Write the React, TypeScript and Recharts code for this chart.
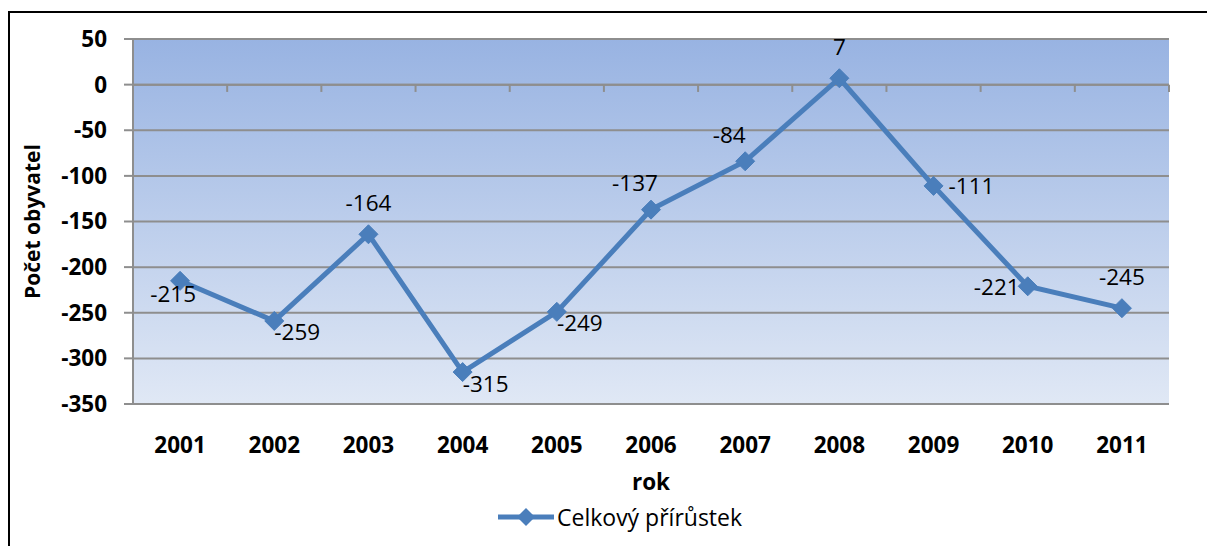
import React from 'react';
import {
  LineChart,
  Line,
  XAxis,
  YAxis,
  CartesianGrid,
  ReferenceLine,
  LabelList,
  Legend,
} from 'recharts';

// Roky a celkový přírůstek obyvatel
const years = ['2001', '2002', '2003', '2004', '2005', '2006', '2007', '2008', '2009', '2010', '2011'];
const growth = [-215, -259, -164, -315, -249, -137, -84, 7, -111, -221, -245];
const yTicks = [50, 0, -50, -100, -150, -200, -250, -300, -350];
const seriesName = 'Celkový přírůstek';

// where each value label sits relative to its marker
const labelSides = [
  'belowLeft', 'belowRight', 'above', 'belowRight', 'belowRight',
  'aboveLeft', 'aboveLeft', 'above', 'right', 'left', 'above',
];

const sideOffsets: Record<string, [number, number]> = {
  above: [0, -32],
  aboveLeft: [-16, -27],
  belowLeft: [-7, 13],
  belowRight: [23, 11],
  right: [38, 0],
  left: [-31, 0],
};

const data = years.map((year, i) => ({ pos: i + 1, year, value: growth[i] }));
const categoryTicks = years.map((_, i) => i + 1);
const boundaries = years.map((_, i) => i + 0.5).concat([years.length + 0.5]);

const FONT = '"Open Sans", "Noto Sans", sans-serif';
const LINE = '#4a7ebb';
const GRID = '#8e8e8e';
const AXIS_FONT = 22.5;

const Diamond = (props: any) => {
  const { cx, cy } = props;
  if (cx == null || cy == null) return null;
  const r = 9.5;
  return (
    <polygon
      points={`${cx},${cy - r} ${cx + r},${cy} ${cx},${cy + r} ${cx - r},${cy}`}
      fill={LINE}
      stroke={LINE}
      strokeWidth={1}
    />
  );
};

const ValueLabel = (props: any) => {
  const { x, y, value, index } = props;
  const [dx, dy] = sideOffsets[labelSides[index]] || [0, -30];
  return (
    <text
      x={x + dx}
      y={y + dy}
      textAnchor="middle"
      dominantBaseline="central"
      fontFamily={FONT}
      fontSize={22.5}
      fill="#000"
    >
      {value}
    </text>
  );
};

const YTitle = (props: any) => {
  const { viewBox } = props;
  const cy = viewBox.y + viewBox.height / 2;
  const cx = 32;
  return (
    <text
      x={cx}
      y={cy}
      transform={`rotate(-90 ${cx} ${cy})`}
      textAnchor="middle"
      dominantBaseline="central"
      fontFamily={FONT}
      fontSize={21}
      fontWeight="bold"
      fill="#000"
    >
      Počet obyvatel
    </text>
  );
};

const XTitle = (props: any) => {
  const { viewBox } = props;
  const cx = viewBox.x + viewBox.width / 2;
  return (
    <text
      x={cx}
      y={viewBox.y + 77}
      textAnchor="middle"
      dominantBaseline="central"
      fontFamily={FONT}
      fontSize={AXIS_FONT}
      fontWeight="bold"
      fill="#000"
    >
      rok
    </text>
  );
};

const LegendContent = () => (
  <div style={{ display: 'flex', alignItems: 'center', height: 30 }}>
    <svg width={58} height={30}>
      <line x1={1} y1={15} x2={57} y2={15} stroke={LINE} strokeWidth={5} />
      <polygon points="29,6 38,15 29,24 20,15" fill={LINE} />
    </svg>
    <span style={{ fontFamily: FONT, fontSize: 23, color: '#000', marginLeft: 2, whiteSpace: 'nowrap' }}>
      {seriesName}
    </span>
  </div>
);

export default function App() {
  return (
    <div style={{ position: 'absolute', left: 0, top: 0, width: 1207, height: 546, background: '#fff' }}>
      <div
        style={{
          position: 'absolute',
          left: 8,
          top: 11,
          width: 1199,
          height: 535,
          borderTop: '2px solid #000',
          borderLeft: '2px solid #000',
          boxSizing: 'border-box',
        }}
      />
      <LineChart
        width={1207}
        height={546}
        data={data}
        margin={{ top: 39, right: 38, left: 0, bottom: 14 }}
        style={{ position: 'absolute', left: 0, top: 0 }}
      >
        <defs>
          <linearGradient id="plotBg" x1="0" y1="0" x2="0" y2="1">
            <stop offset="0%" stopColor="#98b3e2" />
            <stop offset="100%" stopColor="#e0e8f5" />
          </linearGradient>
        </defs>
        <CartesianGrid
          vertical={false}
          stroke={GRID}
          strokeWidth={2}
          fill="url(#plotBg)"
          fillOpacity={1}
        />
        <XAxis
          dataKey="pos"
          type="number"
          domain={[0.5, years.length + 0.5]}
          ticks={categoryTicks}
          tickFormatter={(v: number) => years[v - 1]}
          axisLine={false}
          tickLine={false}
          tickSize={0}
          tickMargin={33}
          height={98}
          interval={0}
          tick={{ fontFamily: FONT, fontSize: AXIS_FONT, fontWeight: 'bold', fill: '#000' }}
          label={<XTitle />}
        />
        <YAxis
          type="number"
          domain={[-350, 50]}
          ticks={yTicks}
          interval={0}
          width={133}
          axisLine={{ stroke: GRID, strokeWidth: 2 }}
          tickLine={{ stroke: GRID, strokeWidth: 2 }}
          tickSize={9}
          tickMargin={17}
          tick={{ fontFamily: FONT, fontSize: AXIS_FONT, fontWeight: 'bold', fill: '#000' }}
          label={<YTitle />}
        />
        <ReferenceLine y={0} stroke={GRID} strokeWidth={2} />
        {boundaries.map((b) => (
          <ReferenceLine
            key={b}
            segment={[{ x: b, y: 0 }, { x: b, y: -8 }]}
            stroke={GRID}
            strokeWidth={2}
          />
        ))}
        <Legend
          verticalAlign="bottom"
          content={<LegendContent />}
          wrapperStyle={{ left: 497, width: 300, height: 30, bottom: 14 }}
        />
        <Line
          type="linear"
          dataKey="value"
          name={seriesName}
          stroke={LINE}
          strokeWidth={5}
          dot={<Diamond />}
          activeDot={false}
          isAnimationActive={false}
        >
          <LabelList dataKey="value" content={<ValueLabel />} />
        </Line>
      </LineChart>
    </div>
  );
}
